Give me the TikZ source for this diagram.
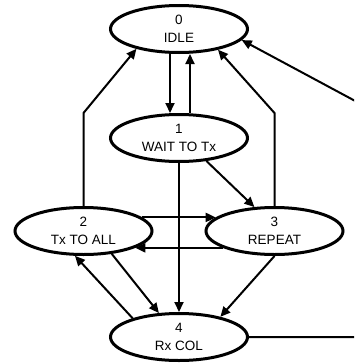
\documentclass[tikz,border=0pt]{standalone}
\usepackage{fontspec}
\setmainfont{Liberation Sans}
\usetikzlibrary{shapes.geometric,arrows.meta}

\begin{document}
\begin{tikzpicture}[x=1pt, y=-1pt,
        state/.style={ellipse, draw, line width=3pt, minimum width=137pt, minimum height=47pt,
            inner sep=0pt, align=center, font=\fontsize{13.5}{18}\selectfont},
        edge/.style={line width=2pt, -{Triangle[length=10pt, width=9pt]}}]
            \useasboundingbox (0,0) rectangle (354,364);
            \clip (0,0) rectangle (354,364);
            % States
            \node[state] (n0) at (179,29) {0\\IDLE};
            \node[state] (n1) at (179,138) {1\\WAIT TO Tx};
            \node[state] (n2) at (83.5,231) {2\\Tx TO ALL};
            \node[state] (n3) at (274.5,231) {3\\REPEAT};
            \node[state] (n4) at (179,337) {4\\Rx COL};
            \coordinate (rt) at (372,110);
            % Transitions
            \draw[edge] ([xshift=-9pt]n0.south) -- ([xshift=-9pt]n1.north);
            \draw[edge] ([xshift=11pt]n1.north) -- ([xshift=11pt]n0.south);
            \draw[edge] (n1.south) -- (n4.north);
            \draw[edge] (n1.320) -- (n3.130);
            \draw[edge] (n2.north) -- (n2.north |- n1.north) -- (n0.205);
            \draw[edge] (n3.north) -- (n3.north |- n1.north) -- (n0.332);
            \draw[edge] (n2.13) -- (n3.167);
            \draw[edge] (n3.198) -- (n2.342);
            \draw[edge] (n2.321) -- (n4.130);
            \draw[edge] (n4.158) -- (n2.251);
            \draw[edge] (n3.south) -- (n4.26);
            \draw[edge] (n4.east) -- (n4.east -| rt) -- (rt) -- (n0.350);
        \end{tikzpicture}
\end{document}
